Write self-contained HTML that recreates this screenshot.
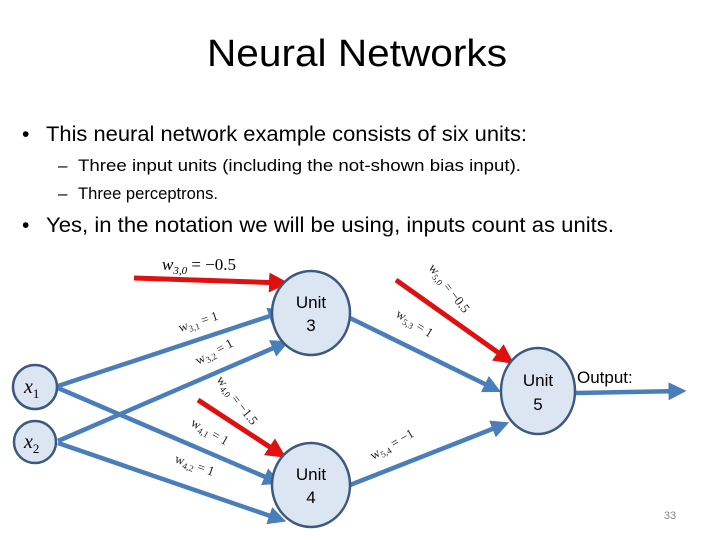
<!DOCTYPE html>
<html><head><style>
body{margin:0;background:#fff;}
svg{display:block}
</style></head><body>
<svg width="720" height="540" xmlns="http://www.w3.org/2000/svg" font-family="'Liberation Sans',sans-serif">
<defs>
<marker id="ab" markerWidth="4" markerHeight="4" refX="3" refY="2" orient="auto" markerUnits="strokeWidth"><path d="M0,0 L4,2 L0,4 Z" fill="#4a7ebb"/></marker>
<marker id="ar" markerWidth="4" markerHeight="4" refX="3" refY="2" orient="auto" markerUnits="strokeWidth"><path d="M0,0 L4,2 L0,4 Z" fill="#e01010"/></marker>
</defs>
<text x="207" y="66" font-size="38" textLength="300" lengthAdjust="spacingAndGlyphs" fill="#000">Neural Networks</text>
<text x="22" y="141" font-size="21">•</text>
<text x="46" y="141" font-size="21" textLength="481" lengthAdjust="spacingAndGlyphs">This neural network example consists of six units:</text>
<text x="58" y="171" font-size="17">–</text>
<text x="78" y="171" font-size="17" textLength="443" lengthAdjust="spacingAndGlyphs">Three input units (including the not-shown bias input).</text>
<text x="58" y="199" font-size="17">–</text>
<text x="78" y="199" font-size="17" textLength="140" lengthAdjust="spacingAndGlyphs">Three perceptrons.</text>
<text x="22" y="232" font-size="21">•</text>
<text x="46" y="232" font-size="21" textLength="568" lengthAdjust="spacingAndGlyphs">Yes, in the notation we will be using, inputs count as units.</text>

<g stroke="#4a7ebb" stroke-width="4.5" fill="none">
<line x1="58" y1="386" x2="282" y2="312" marker-end="url(#ab)"/>
<line x1="58" y1="441" x2="285" y2="343" marker-end="url(#ab)"/>
<line x1="58" y1="388" x2="277" y2="482" marker-end="url(#ab)"/>
<line x1="58" y1="443" x2="282" y2="520" marker-end="url(#ab)"/>
<line x1="350" y1="318" x2="497" y2="390" marker-end="url(#ab)"/>
<line x1="350" y1="485" x2="505" y2="424" marker-end="url(#ab)"/>
<line x1="576" y1="393" x2="682" y2="391" marker-end="url(#ab)"/>
</g>
<g stroke="#e01010" stroke-width="5" fill="none">
<line x1="134" y1="278" x2="284" y2="283" marker-end="url(#ar)"/>
<line x1="198" y1="400" x2="282" y2="455" marker-end="url(#ar)"/>
<line x1="396" y1="280" x2="510" y2="361" marker-end="url(#ar)"/>
</g>
<g fill="#dce6f2" stroke="#3c5a80" stroke-width="2.5">
<ellipse cx="311" cy="313" rx="39" ry="42"/>
<ellipse cx="311" cy="485" rx="39" ry="42"/>
<ellipse cx="538" cy="391" rx="37" ry="43"/>
<circle cx="35" cy="387" r="22"/>
<circle cx="35" cy="442" r="21"/>
</g>
<g font-size="17" text-anchor="middle" fill="#000">
<text x="311" y="308">Unit</text><text x="311" y="331">3</text>
<text x="311" y="480">Unit</text><text x="311" y="503">4</text>
<text x="538" y="386">Unit</text><text x="538" y="410">5</text>
</g>
<text x="577" y="383" font-size="17">Output:</text>
<g font-family="'Liberation Serif',serif" font-style="italic" font-size="20">
<text x="24" y="393">x<tspan font-size="13" dy="5" font-style="normal">1</tspan></text>
<text x="24" y="448">x<tspan font-size="13" dy="5" font-style="normal">2</tspan></text>
<text x="162" y="270" font-size="17">w<tspan font-size="11" dy="4">3,0</tspan><tspan dy="-4" font-style="normal"> = −0.5</tspan></text>
</g>
<g font-family="'Liberation Serif',serif" font-size="13" fill="#222">
<text transform="translate(180,332) rotate(-18)">w<tspan font-size="9" dy="3">3,1</tspan><tspan dy="-3"> = 1</tspan></text>
<text transform="translate(198,365) rotate(-28)">w<tspan font-size="9" dy="3">3,2</tspan><tspan dy="-3"> = 1</tspan></text>
<text transform="translate(216,380) rotate(52)">w<tspan font-size="9" dy="3">4,0</tspan><tspan dy="-3"> = −1.5</tspan></text>
<text transform="translate(190,425) rotate(30)">w<tspan font-size="9" dy="3">4,1</tspan><tspan dy="-3"> = 1</tspan></text>
<text transform="translate(174,462) rotate(20)">w<tspan font-size="9" dy="3">4,2</tspan><tspan dy="-3"> = 1</tspan></text>
<text transform="translate(428,268) rotate(52)">w<tspan font-size="9" dy="3">5,0</tspan><tspan dy="-3"> = −0.5</tspan></text>
<text transform="translate(395,316) rotate(32)">w<tspan font-size="9" dy="3">5,3</tspan><tspan dy="-3"> = 1</tspan></text>
<text transform="translate(373,460) rotate(-30)">w<tspan font-size="9" dy="3">5,4</tspan><tspan dy="-3"> = −1</tspan></text>
</g>
<text x="670" y="519" font-size="11" fill="#888" text-anchor="middle">33</text>
</svg>
</body></html>
